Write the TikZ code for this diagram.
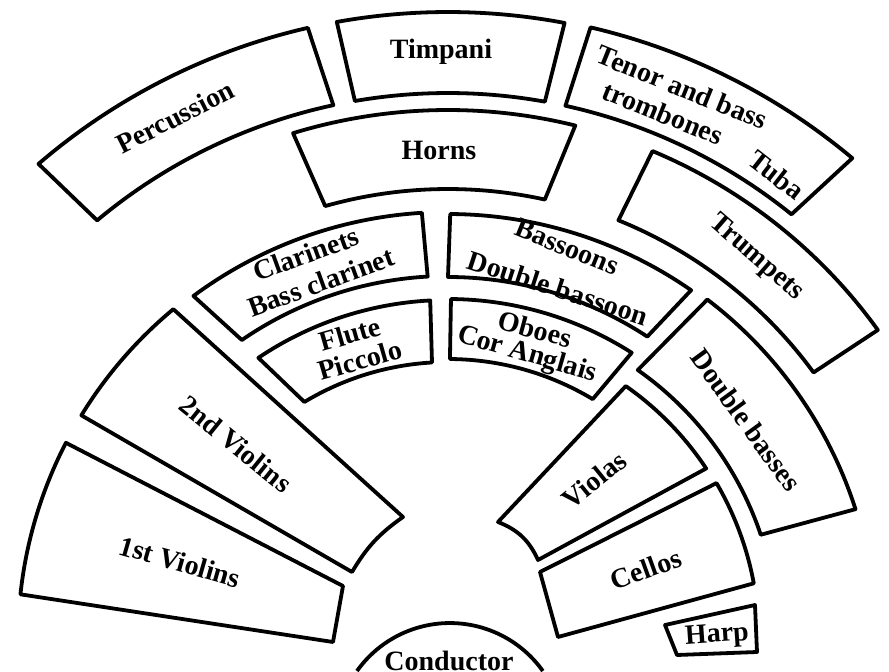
\documentclass[tikz,border=0pt]{standalone}
\usepackage{fontspec}
\setmainfont{Liberation Serif}
\usepackage{tikz}

% annular block: outer angles, inner angles, outer and inner radius
\newcommand{\seatarc}[6]{%
  \draw[block] (#1:#5) arc[start angle=#1, end angle=#2, radius=#5]
    -- (#4:#6) arc[start angle=#4, end angle=#3, radius=#6] -- cycle;}

\begin{document}
\begin{tikzpicture}[
    x=0.5pt, y=0.5pt,
    block/.style={draw, line width=1.9pt, line join=round},
    lbl/.style={font=\fontsize{14}{14}\selectfont\bfseries, inner sep=0pt}
]
\useasboundingbox (-448,-31) rectangle (441,640);

% Back row
\seatarc{130.7}{102.9}{129.9}{102.1}{628}{547}
\node[lbl, rotate=27] (perc) at (-273,523) {Percussion};
\seatarc{100.2}{79.3}{99.8}{79.8}{628}{547}
\node[lbl] (timp) at (-7,588) {Timpani};
\seatarc{76.9}{50.0}{77.6}{51.1}{629}{547}
\node[lbl, rotate=-22] (tenor) at (234,553) {Tenor and bass};
\node[lbl, rotate=-22] (tromb) at (215,527) {trombones};
\node[lbl, rotate=-38] (tuba) at (329,465) {Tuba};

% Brass
\seatarc{107.0}{76.1}{105.8}{77.6}{530}{451}
\node[lbl] (horns) at (-9,490) {Horns};
\seatarc{67.3}{35.8}{67.9}{36.2}{530}{453}
\node[lbl, rotate=-41] (trump) at (308,382) {Trumpets};

% Woodwinds
\seatarc{126.5}{93.5}{124.5}{93.2}{428}{364}
\node[lbl, rotate=20] (clar) at (-142,386) {Clarinets};
\node[lbl, rotate=20] (bclar) at (-127,358) {Bass clarinet};
\seatarc{89.7}{55.2}{90.0}{56.7}{426}{363}
\node[lbl, rotate=-22] (bsn) at (119,393) {Bassoons};
\node[lbl, rotate=-18] (cbsn) at (110,352) {Double bassoon};
\seatarc{123.9}{93.0}{121.1}{93.3}{340}{278}
\node[lbl, rotate=16] (flute) at (-98,306) {Flute};
\node[lbl, rotate=16] (picc) at (-88,280) {Piccolo};
\seatarc{89.5}{57.4}{89.6}{59.0}{341}{281}
\node[lbl, rotate=-15] (oboe) at (87,311) {Oboes};
\node[lbl, rotate=-16] (cora) at (79,285) {Cor Anglais};

% Strings
\seatarc{52.7}{17.8}{54.9}{18.6}{428}{330}
\node[lbl, rotate=-54] (dbass) at (298,220) {Double basses};
\draw[block] (129.7:430) arc[start angle=129.7, end angle=148.5, radius=430]
  -- (-96,68) to[bend left=12] (-45,123) -- cycle;
\node[lbl, rotate=-39] (vln2) at (-212,196) {2nd Violins};
\draw[block] (152.7:430) arc[start angle=152.7, end angle=173.9, radius=430]
  -- (-115,-2) -- (-105,54) -- cycle;
\node[lbl, rotate=-16] (vln1) at (-268,78) {1st Violins};
\draw[block] (55.0:310) arc[start angle=55.0, end angle=33.6, radius=310]
  -- (90,80) to[bend right=22] (50,118) -- cycle;
\node[lbl, rotate=39] (viola) at (146,160) {Violas};
\draw[block] (30.3:311) arc[start angle=30.3, end angle=10.5, radius=311]
  -- (110,3) -- (92,68) -- cycle;
\node[lbl, rotate=20] (cello) at (198,71) {Cellos};
\draw[block] (217,15) -- (307,35) -- (309,-12) -- (229,-15) -- cycle;
\node[lbl, rotate=4] (harp) at (269,4) {Harp};

% Podium
\draw[block] (-91,-31) arc[start angle=144.6, end angle=35.4, radius=114];
\node[lbl] (cond) at (1,-21) {Conductor};

\end{tikzpicture}
\end{document}
